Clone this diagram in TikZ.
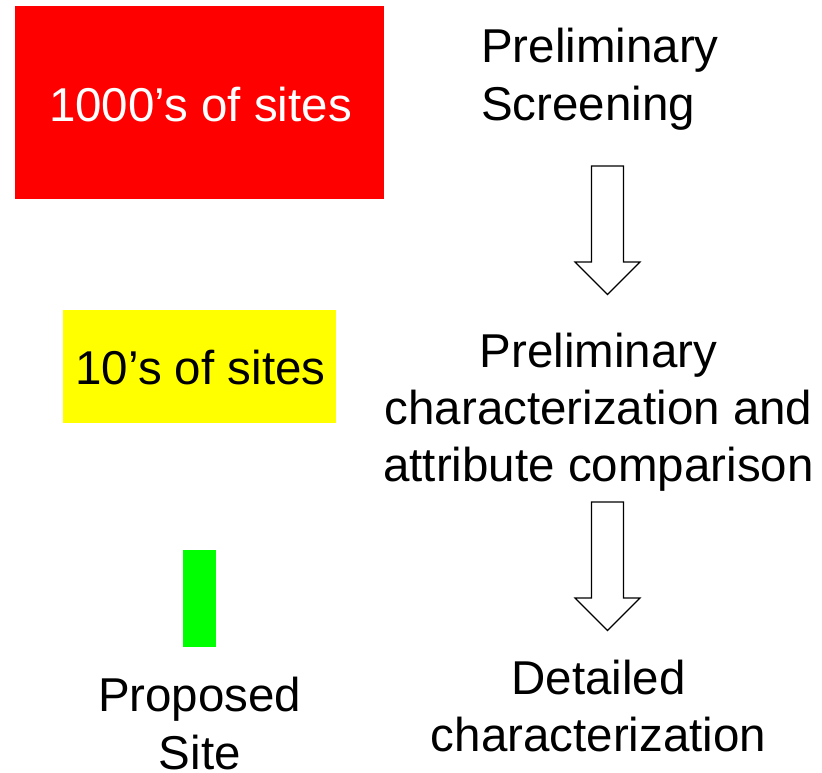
\documentclass[tikz,border=0pt]{standalone}
\usepackage{fontspec}
\setmainfont{Liberation Sans}
\begin{document}
\begin{tikzpicture}[x=1pt,y=-1pt,
  bigtext/.style={inner sep=0pt, font=\fontsize{47.5}{57.3}\selectfont},
  colbox/.style={draw=none, inner sep=0pt},
  arrowline/.style={draw=black, line width=1.2pt, fill=white, line join=miter},
  blockarrow/.pic={\draw[arrowline] (-16,0) -- (16,0) -- (16,96) -- (32.5,96) -- (0,128.5) -- (-32.5,96) -- (-16,96) -- cycle;}]
\useasboundingbox (0,0) rectangle (822,772);
% coloured boxes
\node[colbox, fill={rgb,255:red,255;green,0;blue,0}, minimum width=369pt, minimum height=193pt] (redbox) at (199.5,102.5) {};
\node[colbox, fill={rgb,255:red,255;green,255;blue,0}, minimum width=273.5pt, minimum height=112.5pt] (yellowbox) at (199.5,366.5) {};
\node[colbox, fill={rgb,255:red,0;green,255;blue,0}, minimum width=33pt, minimum height=97pt] (greenbox) at (199.5,598.5) {};
% texts (base anchor of a multi-line node = last line's baseline)
\node[bigtext, text=white, anchor=base] (t1) at (200.5,121) {1000’s of sites};
\node[bigtext, anchor=base west, align=left] (t2) at (481,120) {Preliminary\\Screening};
\node[bigtext, anchor=base] (t3) at (200.5,384) {10’s of sites};
\node[bigtext, anchor=base, align=center] (t4) at (598.5,481.7) {Preliminary\\characterization and\\attribute comparison};
\node[bigtext, anchor=base, align=center] (t5) at (199.7,769) {Proposed\\Site};
\node[bigtext, anchor=base, align=center] (t6) at (598.5,751.7) {Detailed\\characterization};
% block arrows
\pic at (607.5,166) {blockarrow};
\pic at (607.5,502) {blockarrow};
\end{tikzpicture}
\end{document}
